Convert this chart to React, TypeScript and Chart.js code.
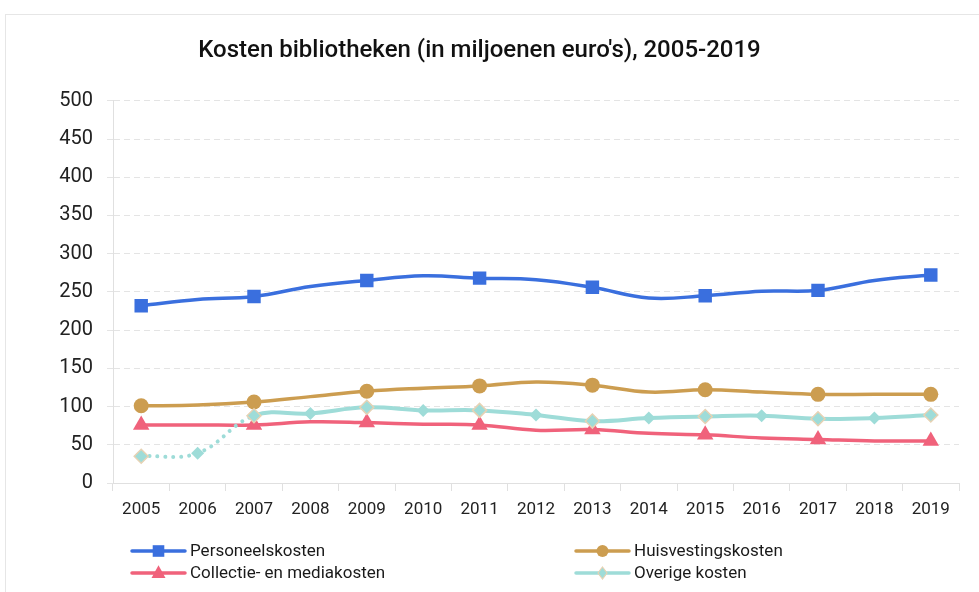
import React, { useEffect, useRef } from "react";
import { Chart, registerables } from "chart.js";

Chart.register(...registerables);

const titleText = "Kosten bibliotheken (in miljoenen euro's), 2005-2019";
const years = ["2005", "2006", "2007", "2008", "2009", "2010", "2011", "2012", "2013", "2014", "2015", "2016", "2017", "2018", "2019"];
const personeel = [232, 240, 244, 257, 265, 271, 268, 266, 256, 242, 245, 251, 252, 265, 272];
const huisvesting = [101, 102, 106, 113, 120, 124, 127, 132, 128, 119, 122, 119, 116, 116, 116];
const collectie = [76, 76, 76, 80, 79, 77, 76, 69, 70, 65, 63, 59, 57, 55, 55];
const overige = [35, 39, 88, 91, 99, 95, 95, 89, 81, 85, 87, 88, 84, 85, 89];
const seriesNames = ["Personeelskosten", "Huisvestingskosten", "Collectie- en mediakosten", "Overige kosten"];

const BLUE = "#3a6fde";
const GOLD = "#cc9d50";
const RED = "#f0627b";
const TEAL = "#9edcd8";
const BEIGE = "#e6d2b4";
const FONT = "Roboto";

const oddYearRadius = (r: number) => years.map((_, i) => (i % 2 === 0 ? r : 0));

function drawMarker(ctx: CanvasRenderingContext2D, style: string, x: number, y: number, r: number, fill: string, border?: string) {
  ctx.save();
  ctx.fillStyle = fill;
  ctx.beginPath();
  if (style === "rect") {
    ctx.rect(x - r, y - r, 2 * r, 2 * r);
  } else if (style === "circle") {
    ctx.arc(x, y, r, 0, Math.PI * 2);
  } else if (style === "triangle") {
    ctx.moveTo(x, y - r * 1.1);
    ctx.lineTo(x + r, y + r * 0.7);
    ctx.lineTo(x - r, y + r * 0.7);
    ctx.closePath();
  } else {
    ctx.moveTo(x, y - r);
    ctx.lineTo(x + r * 0.75, y);
    ctx.lineTo(x, y + r);
    ctx.lineTo(x - r * 0.75, y);
    ctx.closePath();
  }
  ctx.fill();
  if (border) {
    ctx.strokeStyle = border;
    ctx.lineWidth = 1.2;
    ctx.stroke();
  }
  ctx.restore();
}

const legendPlugin = {
  id: "gridLegend",
  afterDraw(chart: any) {
    const ctx: CanvasRenderingContext2D = chart.ctx;
    const left = chart.chartArea.left;
    const bottom = chart.height;
    const items = [
      { name: seriesNames[0], color: BLUE, style: "rect", r: 5.8 },
      { name: seriesNames[1], color: GOLD, style: "circle", r: 6 },
      { name: seriesNames[2], color: RED, style: "triangle", r: 7 },
      { name: seriesNames[3], color: TEAL, style: "diamond", r: 6, border: BEIGE },
    ];
    items.forEach((it, i) => {
      const col = i % 2;
      const row = Math.floor(i / 2);
      const x0 = left + 19 + col * 444;
      const y = bottom - 41 + row * 22;
      ctx.save();
      ctx.strokeStyle = it.color;
      ctx.lineWidth = 3.5;
      ctx.lineCap = "round";
      ctx.beginPath();
      ctx.moveTo(x0, y);
      ctx.lineTo(x0 + 53, y);
      ctx.stroke();
      ctx.restore();
      drawMarker(ctx, it.style, x0 + 26.5, y, it.r, it.color, (it as any).border);
      ctx.save();
      ctx.fillStyle = "#1a1a1a";
      ctx.font = `17px ${FONT}`;
      ctx.textBaseline = "middle";
      ctx.textAlign = "left";
      ctx.fillText(it.name, x0 + 58, y + 1);
      ctx.restore();
    });
  },
};

export default function App() {
  const ref = useRef<HTMLCanvasElement>(null);
  useEffect(() => {
    const chart = new Chart(ref.current as HTMLCanvasElement, {
      type: "line",
      data: {
        labels: years,
        datasets: [
          {
            label: seriesNames[0],
            data: personeel,
            borderColor: BLUE,
            backgroundColor: BLUE,
            borderWidth: 3.5,
            tension: 0.4,
            pointStyle: "rect",
            pointRadius: oddYearRadius(9.5),
            pointBorderWidth: 0,
            order: 3,
          },
          {
            label: seriesNames[1],
            data: huisvesting,
            borderColor: GOLD,
            backgroundColor: GOLD,
            borderWidth: 3.5,
            tension: 0.4,
            pointStyle: "circle",
            pointRadius: oddYearRadius(7.5),
            pointBorderWidth: 0,
            order: 2,
          },
          {
            label: seriesNames[2],
            data: collectie,
            borderColor: RED,
            backgroundColor: RED,
            borderWidth: 3.5,
            tension: 0.4,
            pointStyle: "triangle",
            pointRadius: oddYearRadius(9.5),
            pointBorderWidth: 0,
            order: 1,
          },
          {
            label: seriesNames[3],
            data: overige,
            borderColor: TEAL,
            backgroundColor: TEAL,
            borderWidth: 4,
            borderCapStyle: "round",
            tension: 0.4,
            pointStyle: "rectRot",
            pointRadius: years.map((_, i) => (i % 2 === 0 ? 7 : 6.5)),
            pointBorderWidth: years.map((_, i) => (i % 2 === 0 ? 1.5 : 0)),
            pointBorderColor: years.map((_, i) => (i % 2 === 0 ? BEIGE : TEAL)),
            segment: {
              borderDash: (c: any) => (c.p1DataIndex <= 2 ? [0.01, 8] : undefined),
            },
            order: 0,
          },
        ],
      },
      options: {
        responsive: false,
        animation: false,
        layout: { padding: { left: 0, right: 20, top: 0, bottom: 62 } },
        plugins: {
          legend: { display: false },
          tooltip: { enabled: false },
          title: {
            display: true,
            text: titleText,
            color: "#111",
            font: { family: FONT, size: 24, weight: "500" },
            padding: { top: 37, bottom: 35 },
          },
        },
        scales: {
          x: {
            offset: true,
            grid: { display: true, drawOnChartArea: false, drawTicks: true, tickLength: 8, color: "#e0e0e0", offset: true },
            border: { display: true, color: "#e0e0e0" },
            ticks: { color: "#222", font: { family: FONT, size: 17 }, padding: 9, maxRotation: 0, autoSkip: false },
            afterFit: (s: any) => {
              s.height = 47;
            },
          },
          y: {
            min: 0,
            max: 500,
            ticks: { stepSize: 50, color: "#222", font: { family: FONT, size: 20 }, padding: 14 },
            grid: { color: "#e4e4e4", tickLength: 6 },
            border: { display: true, color: "#e0e0e0", dash: [6, 4] },
            afterFit: (s: any) => {
              s.width = 113;
            },
          },
        },
      },
      plugins: [legendPlugin],
    } as any);
    return () => chart.destroy();
  }, []);
  return (
    <div style={{ position: "fixed", left: 0, top: 0, width: 979, height: 592, background: "#fff" }}>
      <div
        style={{
          position: "absolute",
          left: 5,
          top: 14,
          right: 0,
          bottom: 0,
          borderTop: "1px solid #e6e6e6",
          borderLeft: "1px solid #e6e6e6",
        }}
      />
      <canvas ref={ref} width={979} height={592} style={{ position: "absolute", left: 0, top: 0, width: 979, height: 592 }} />
    </div>
  );
}
